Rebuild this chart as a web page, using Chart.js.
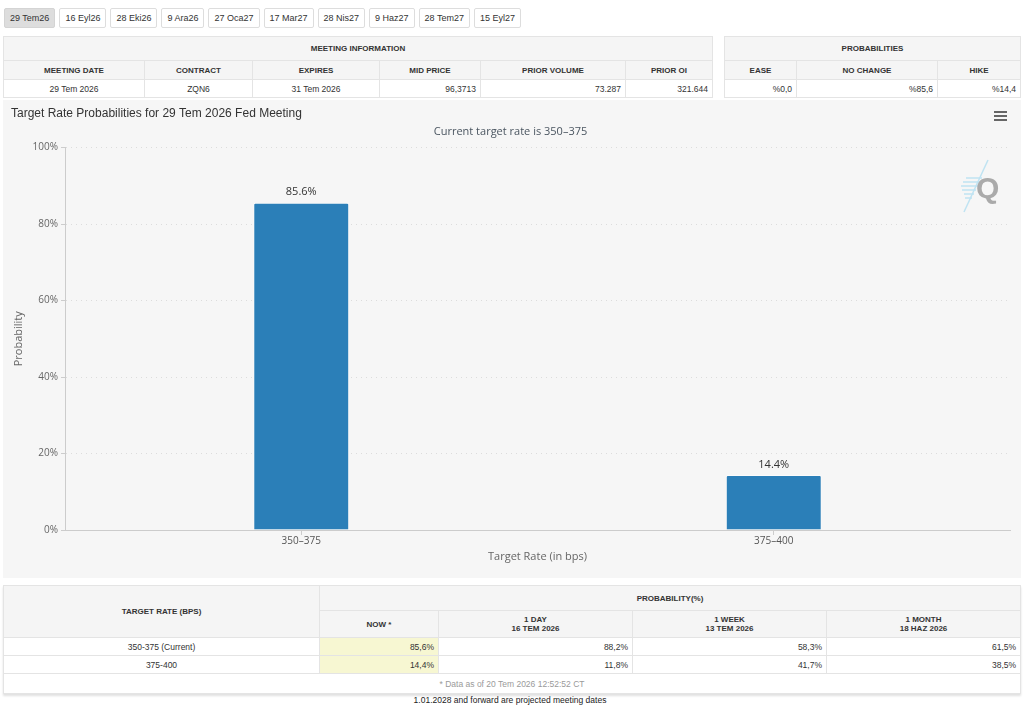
<!DOCTYPE html>
<html>
<head>
<meta charset="utf-8">
<script src="https://cdn.jsdelivr.net/npm/chart.js@4.4.1/dist/chart.umd.min.js"></script>
<style>
  body { margin: 0; background: #fff; font-family: "Liberation Sans", Arial, sans-serif; color: #333; }
  .tabs { position: absolute; left: 4px; top: 8px; display: flex; gap: 4px; }
  .tab { height: 18px; line-height: 18px; padding: 0 5px; font-size: 9px; border: 1px solid #ddd; border-radius: 2px; background: #fff; color: #333; }
  .tab.active { background: #ddd; border-color: #d4d4d4; }
  table { position: absolute; border-collapse: collapse; table-layout: fixed; font-size: 8.5px; }
  td, th { border: 1px solid #e4e4e4; padding: 0 4px; overflow: hidden; white-space: nowrap; }
  th { background: #f5f5f5; font-weight: bold; font-size: 8px; text-align: center; }
  td.c { text-align: center; }
  td.r { text-align: right; }
  td.now { background: #f7f7d2; }
  #rateTable { box-shadow: 0 2px 2px rgba(0,0,0,0.12); }
  #panel { position: absolute; left: 3px; top: 100px; width: 1018px; height: 478px; background: #f6f6f6; }
  #menu { position: absolute; right: 14px; top: 11px; width: 13px; }
  #menu div { height: 2px; background: #666; margin-bottom: 2px; }
  #logo { position: absolute; left: 955px; top: 58px; }
  .foot { position: absolute; left: 0; width: 1020px; top: 695px; text-align: center; font-size: 8.5px; color: #222; }
</style>
</head>
<body>
<div class="tabs" id="tabs"></div>

<table id="meetTable" style="left:3px;top:36px;width:709px">
  <colgroup><col style="width:141px"><col style="width:108px"><col style="width:127px"><col style="width:101px"><col style="width:145px"><col style="width:87px"></colgroup>
</table>
<table id="probTable" style="left:724px;top:36px;width:296px">
  <colgroup><col style="width:72px"><col style="width:141px"><col style="width:83px"></colgroup>
</table>

<div id="panel">
  <canvas id="chart" width="1018" height="478"></canvas>
  <div id="menu"><div></div><div></div><div></div></div>
  <svg id="logo" width="50" height="56" viewBox="0 0 50 56">
    <g stroke="#bfe3f2" stroke-width="1.5">
      <line x1="30" y1="2" x2="6" y2="54"/>
      <line x1="8" y1="20" x2="24" y2="20"/>
      <line x1="5" y1="24" x2="22" y2="24"/>
      <line x1="3" y1="28" x2="20" y2="28"/>
      <line x1="4" y1="32" x2="18" y2="32"/>
      <line x1="6" y1="36" x2="16" y2="36"/>
      <line x1="7" y1="40" x2="14" y2="40"/>
    </g>
    <text x="18" y="40" font-family="Liberation Sans, Arial" font-weight="bold" font-size="30" fill="#aaa">Q</text>
  </svg>
</div>

<table id="rateTable" style="left:3px;top:585px;width:1017px">
  <colgroup><col style="width:316px"><col style="width:119px"><col style="width:194px"><col style="width:194px"><col style="width:194px"></colgroup>
</table>
<div class="foot">1.01.2028 and forward are projected meeting dates</div>

<script>
// meeting tabs
const meetingTabs = ['29 Tem26', '16 Eyl26', '28 Eki26', '9 Ara26', '27 Oca27', '17 Mar27', '28 Nis27', '9 Haz27', '28 Tem27', '15 Eyl27'];

// meeting info
const meetingCols = ['MEETING DATE', 'CONTRACT', 'EXPIRES', 'MID PRICE', 'PRIOR VOLUME', 'PRIOR OI'];
const meetingVals = ['29 Tem 2026', 'ZQN6', '31 Tem 2026', '96,3713', '73.287', '321.644'];
const probCols = ['EASE', 'NO CHANGE', 'HIKE'];
const probVals = ['%0,0', '%85,6', '%14,4'];

// target rate probabilities
const rateBuckets = ['350-375', '375-400'];
const probNow = [85.6, 14.4];
const prob1Day = [88.2, 11.8];
const prob1Week = [58.3, 41.7];
const prob1Month = [61.5, 38.5];
const histCols = [['1 DAY', '16 TEM 2026'], ['1 WEEK', '13 TEM 2026'], ['1 MONTH', '18 HAZ 2026']];
const yTicks = [0, 20, 40, 60, 80, 100];

const fmt = v => v.toFixed(1).replace('.', ',') + '%';

document.getElementById('tabs').innerHTML = meetingTabs
  .map((t, i) => `<div class="tab${i === 0 ? ' active' : ''}">${t}</div>`).join('');

document.getElementById('meetTable').insertAdjacentHTML('beforeend',
  `<tr style="height:24px"><th colspan="6">MEETING INFORMATION</th></tr>` +
  `<tr style="height:19px">${meetingCols.map(c => `<th>${c}</th>`).join('')}</tr>` +
  `<tr style="height:18px">${meetingVals.map((v, i) => `<td class="${i < 3 ? 'c' : 'r'}">${v}</td>`).join('')}</tr>`);

document.getElementById('probTable').insertAdjacentHTML('beforeend',
  `<tr style="height:24px"><th colspan="3">PROBABILITIES</th></tr>` +
  `<tr style="height:19px">${probCols.map(c => `<th>${c}</th>`).join('')}</tr>` +
  `<tr style="height:18px">${probVals.map(v => `<td class="r">${v}</td>`).join('')}</tr>`);

let rows = `<tr style="height:25px"><th rowspan="2">TARGET RATE (BPS)</th><th colspan="4">PROBABILITY(%)</th></tr>` +
  `<tr style="height:27px"><th>NOW *</th>${histCols.map(h => `<th>${h[0]}<br>${h[1]}</th>`).join('')}</tr>`;
rateBuckets.forEach((b, i) => {
  rows += `<tr style="height:18px"><td class="c">${b}${i === 0 ? ' (Current)' : ''}</td>` +
    `<td class="r now">${fmt(probNow[i])}</td><td class="r">${fmt(prob1Day[i])}</td>` +
    `<td class="r">${fmt(prob1Week[i])}</td><td class="r">${fmt(prob1Month[i])}</td></tr>`;
});
rows += `<tr style="height:20px"><td colspan="5" class="c" style="color:#9a9a9a">* Data as of 20 Tem 2026 12:52:52 CT</td></tr>`;
document.getElementById('rateTable').insertAdjacentHTML('beforeend', rows);

// bar value labels
const barLabels = {
  id: 'barLabels',
  afterDatasetsDraw(chart) {
    const ctx = chart.ctx;
    const meta = chart.getDatasetMeta(0);
    ctx.save();
    ctx.font = '11px "Open Sans", sans-serif';
    ctx.fillStyle = '#333';
    ctx.textAlign = 'center';
    ctx.textBaseline = 'bottom';
    meta.data.forEach((bar, i) => {
      ctx.fillText(probNow[i].toFixed(1) + '%', bar.x, bar.y - 5);
    });
    ctx.restore();
  }
};

const chartFont = '"Open Sans", sans-serif';

new Chart(document.getElementById('chart'), {
  type: 'bar',
  data: {
    labels: rateBuckets.map(b => b.replace('-', '\u2013')),
    datasets: [{
      data: probNow,
      backgroundColor: '#2b7fb8',
      borderColor: 'rgba(255,255,255,0.5)',
      borderWidth: 1,
      borderRadius: 2,
      barPercentage: 0.203,
      categoryPercentage: 1
    }]
  },
  plugins: [barLabels],
  options: {
    responsive: false,
    animation: false,
    layout: { padding: { left: 8, right: 11, top: 0, bottom: 12 } },
    plugins: {
      legend: { display: false },
      tooltip: { enabled: false },
      title: {
        display: true,
        text: 'Target Rate Probabilities for 29 Tem 2026 Fed Meeting',
        align: 'start',
        color: '#333',
        font: { family: '"Liberation Sans", Arial', size: 12, weight: 'normal' },
        padding: { top: 6, bottom: 5 }
      },
      subtitle: {
        display: true,
        text: 'Current target rate is 350\u2013375',
        color: '#4a5560',
        font: { family: chartFont, size: 11 },
        padding: { top: 0, bottom: 9 }
      }
    },
    scales: {
      x: {
        afterFit: s => { s.height = 36; },
        grid: { display: true, drawOnChartArea: false, offset: false, tickLength: 5, color: '#ccc' },
        border: { color: '#ccc', width: 1 },
        ticks: { color: '#555', font: { family: chartFont, size: 10 }, padding: 0 },
        title: { display: true, text: 'Target Rate (in bps)', color: '#666', font: { family: chartFont, size: 11 }, padding: { top: 0, bottom: 3 } }
      },
      y: {
        min: 0,
        max: 100,
        afterFit: s => { s.width = 54; },
        afterBuildTicks: s => { s.ticks = yTicks.map(v => ({ value: v })); },
        grid: { color: '#dcdcdc', tickLength: 4, tickColor: '#ccc' },
        border: { color: '#ccc', width: 1, dash: [1, 4] },
        ticks: { color: '#666', font: { family: chartFont, size: 10 }, padding: 3, callback: v => v + '%' },
        title: { display: true, text: 'Probability', color: '#666', font: { family: chartFont, size: 11 }, padding: 1 }
      }
    }
  }
});
</script>
</body>
</html>
